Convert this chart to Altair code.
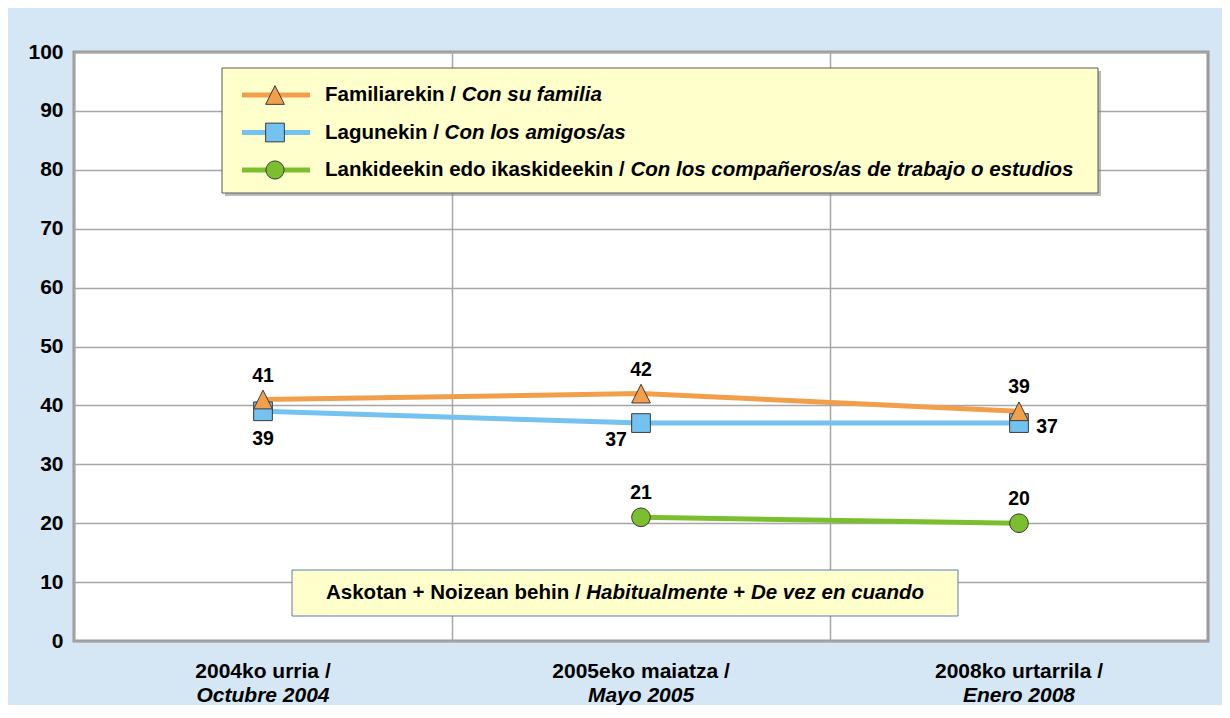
import altair as alt
import pandas as pd
import json

# ---------------- data ----------------
cat_eu = ["2004ko urria /", "2005eko maiatza /", "2008ko urtarrila /"]
cat_es = ["Octubre 2004", "Mayo 2005", "Enero 2008"]

familia = [41, 42, 39]
amigos = [39, 37, 37]
companeros = [None, 21, 20]

series_keys = ["familia", "amigos", "companeros"]
series_eu = ["Familiarekin /", "Lagunekin /", "Lankideekin edo ikaskideekin /"]
series_es = ["Con su familia", "Con los amigos/as", "Con los compañeros/as de trabajo o estudios"]

note_parts = ["Askotan + Noizean behin /", "Habitualmente", "+", "De vez en cuando"]

# ---------------- style ----------------
FONT = "Liberation Sans"
W, H = 1134, 589
colors = ["#F29F4C", "#74C2F0", "#7CBF2E"]
shapes = ["M0,-1L1,1L-1,1Z", "square", "circle"]
GRID = "#A6A6A6"

rows = []
# drawing order: last series first so that the first series' markers end on top
for key, vals in list(zip(series_keys, [familia, amigos, companeros]))[::-1]:
    for c, v in zip(cat_eu, vals):
        if v is not None:
            rows.append({"serie": key, "cat": c, "valor": v})
df = pd.DataFrame(rows)
cats_df = pd.DataFrame({"cat": cat_eu, "es": cat_es})
one = pd.DataFrame({"k": [0]})

x_enc = alt.X(
    "cat:N",
    sort=cat_eu,
    scale=alt.Scale(type="band", domain=cat_eu, paddingInner=0, paddingOuter=0),
    axis=alt.Axis(title=None, labels=False, ticks=False, domain=False, grid=True,
                  bandPosition=0, gridColor=GRID, gridWidth=1.5),
)
y_enc = alt.Y(
    "valor:Q",
    scale=alt.Scale(domain=[0, 100], nice=False),
    axis=alt.Axis(title=None, values=list(range(0, 101, 10)), ticks=False, domain=False,
                  labelFont=FONT, labelFontSize=21, labelFontWeight="bold",
                  labelColor="#000000", labelPadding=11, gridColor=GRID, gridWidth=1.5),
)
color_enc = alt.Color("serie:N", scale=alt.Scale(domain=series_keys, range=colors), legend=None)
fill_enc = alt.Fill("serie:N", scale=alt.Scale(domain=series_keys, range=colors), legend=None)
shape_enc = alt.Shape("serie:N", scale=alt.Scale(domain=series_keys, range=shapes), legend=None)

base = alt.Chart(df)

lines = base.mark_line(strokeWidth=5).encode(x=x_enc, y=y_enc, color=color_enc)
points = base.mark_point(filled=True, size=350, stroke="#3A3A3A", strokeWidth=1, opacity=1).encode(
    x=x_enc, y=y_enc, fill=fill_enc, shape=shape_enc
)

lab_style = dict(font=FONT, fontSize=19.5, fontWeight="bold", color="#000000", baseline="middle")


def labels(serie, cat_list, dx, dy):
    expr = "datum.serie == %s && indexof(%s, datum.cat) >= 0" % (json.dumps(serie), json.dumps(cat_list))
    return base.transform_filter(expr).mark_text(dx=dx, dy=dy, **lab_style).encode(
        x=alt.X("cat:N", sort=cat_eu), y="valor:Q", text="valor:Q"
    )


label_layers = [
    labels("familia", cat_eu, 0, -24),
    labels("companeros", cat_eu, 0, -24),
    labels("amigos", [cat_eu[0]], 0, 28),
    labels("amigos", [cat_eu[1]], -25, 17),
    labels("amigos", [cat_eu[2]], 28, 4),
]

# category labels (two lines: bold / bold italic)
xl1 = alt.Chart(cats_df).mark_text(font=FONT, fontSize=21, fontWeight="bold", color="#000000",
                                   baseline="middle").encode(
    x=alt.X("cat:N", sort=cat_eu), y=alt.value(H + 31), text="cat:N")
xl2 = alt.Chart(cats_df).mark_text(font=FONT, fontSize=21, fontWeight="bold", fontStyle="italic",
                                   color="#000000", baseline="middle").encode(
    x=alt.X("cat:N", sort=cat_eu), y=alt.value(H + 55), text="es:N")

# ---------------- legend box ----------------
deco = []
LX0, LX1, LY0, LY1 = 148, 1024, 16, 141
deco.append(alt.Chart(one).mark_rect(fill="#8C8C8C", opacity=0.6).encode(
    x=alt.value(LX0 + 3), x2=alt.value(LX1 + 3), y=alt.value(LY0 + 3), y2=alt.value(LY1 + 3)))
deco.append(alt.Chart(one).mark_rect(fill="#FFFFCC", stroke="#5A5A5A", strokeWidth=1).encode(
    x=alt.value(LX0), x2=alt.value(LX1), y=alt.value(LY0), y2=alt.value(LY1)))
row_y = [43, 80.5, 118]
ital_x = [387.7, 370.6, 556.4]
sizes = [350, 350, 330]
LFS = 20.5
for i in range(3):
    deco.append(alt.Chart(one).mark_rule(strokeWidth=5, color=colors[i]).encode(
        x=alt.value(168), x2=alt.value(236), y=alt.value(row_y[i])))
    deco.append(alt.Chart(one).mark_point(filled=True, shape=shapes[i], size=sizes[i], fill=colors[i],
                                          stroke="#3A3A3A", strokeWidth=1, opacity=1).encode(
        x=alt.value(201), y=alt.value(row_y[i])))
    deco.append(alt.Chart(one).mark_text(font=FONT, fontSize=LFS, fontWeight="bold", align="left",
                                         baseline="middle", color="#000000").encode(
        x=alt.value(251), y=alt.value(row_y[i]), text=alt.value(series_eu[i])))
    deco.append(alt.Chart(one).mark_text(font=FONT, fontSize=LFS, fontWeight="bold", fontStyle="italic",
                                         align="left", baseline="middle", color="#000000").encode(
        x=alt.value(ital_x[i]), y=alt.value(row_y[i]), text=alt.value(series_es[i])))

# ---------------- note box ----------------
deco.append(alt.Chart(one).mark_rect(fill="#FFFFCC", stroke="#5B7DB8", strokeWidth=1).encode(
    x=alt.value(218), x2=alt.value(884), y=alt.value(518), y2=alt.value(564)))
note_x = [252, 512.3, 659.2, 676.9]
note_it = [False, True, False, True]
for t, nx, it in zip(note_parts, note_x, note_it):
    kw = dict(font=FONT, fontSize=20.5, fontWeight="bold", align="left", baseline="middle", color="#000000")
    if it:
        kw["fontStyle"] = "italic"
    deco.append(alt.Chart(one).mark_text(**kw).encode(
        x=alt.value(nx), y=alt.value(541), text=alt.value(t)))

chart = alt.layer(
    lines, points, *label_layers, xl1, xl2, *deco
).properties(
    width=W, height=H,
    background="#D5E7F5",
    padding={"left": 66, "top": 44, "right": 14, "bottom": 64},
    autosize=alt.AutoSizeParams(type="none"),
).configure_view(
    fill="#FFFFFF", stroke="#9A9A9A", strokeWidth=3
)

chart.save("out.html", embed_options={"renderer": "svg", "actions": False})
